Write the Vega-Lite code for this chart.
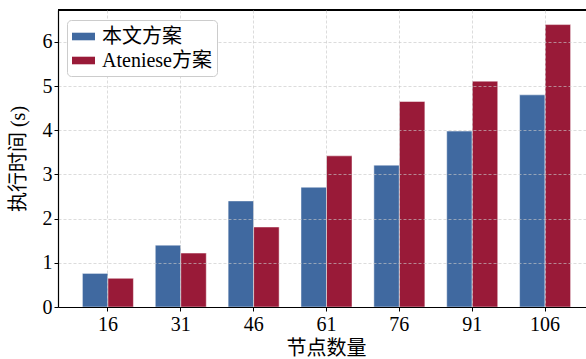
{
  "$schema": "https://vega.github.io/schema/vega-lite/v6.json",
  "autosize": "none",
  "width": 528,
  "height": 297,
  "padding": {"left": 58, "top": 10, "right": 0, "bottom": 52},
  "background": "white",
  "config": {
    "view": {"stroke": null},
    "font": "Liberation Serif, Noto Sans CJK SC",
    "axis": {
      "labelFont": "Liberation Serif, Noto Sans CJK SC",
      "titleFont": "Liberation Serif, Noto Sans CJK SC",
      "labelFontSize": 20,
      "titleFontSize": 20,
      "titleFontWeight": "normal",
      "labelColor": "#000000",
      "titleColor": "#000000",
      "domainColor": "#000000",
      "domainWidth": 1.2,
      "tickColor": "#000000",
      "tickSize": 4,
      "tickWidth": 1,
      "gridColor": "#c8c8c8",
      "gridDash": [3, 2],
      "gridWidth": 0.8,
      "gridOpacity": 0.8
    },
    "legend": {
      "labelFont": "Liberation Serif, Noto Sans CJK SC",
      "labelFontSize": 20,
      "labelColor": "#000000"
    }
  },
  "data": {
    "values": [
      {"nodes": "16", "scheme": "本文方案", "time": 0.76},
      {"nodes": "16", "scheme": "Ateniese方案", "time": 0.65},
      {"nodes": "31", "scheme": "本文方案", "time": 1.40},
      {"nodes": "31", "scheme": "Ateniese方案", "time": 1.22},
      {"nodes": "46", "scheme": "本文方案", "time": 2.40},
      {"nodes": "46", "scheme": "Ateniese方案", "time": 1.81},
      {"nodes": "61", "scheme": "本文方案", "time": 2.71},
      {"nodes": "61", "scheme": "Ateniese方案", "time": 3.42},
      {"nodes": "76", "scheme": "本文方案", "time": 3.21},
      {"nodes": "76", "scheme": "Ateniese方案", "time": 4.65},
      {"nodes": "91", "scheme": "本文方案", "time": 3.98},
      {"nodes": "91", "scheme": "Ateniese方案", "time": 5.11},
      {"nodes": "106", "scheme": "本文方案", "time": 4.80},
      {"nodes": "106", "scheme": "Ateniese方案", "time": 6.39}
    ]
  },
  "layer": [
    {
      "mark": {"type": "bar", "stroke": "#ffffff", "strokeWidth": 0.8, "strokeOpacity": 0.6},
      "encoding": {
        "x": {
          "field": "nodes",
          "type": "ordinal",
          "sort": ["16", "31", "46", "61", "76", "91", "106"],
          "scale": {"range": [0, 537], "paddingInner": 0.3, "paddingOuter": 0.335},
          "axis": {
            "title": "节点数量",
            "labelAngle": 0,
            "labelPadding": 3,
            "grid": true,
            "zindex": 1,
            "titleX": 268,
            "titleY": 41,
            "titleAlign": "center",
            "titleBaseline": "middle"
          }
        },
        "xOffset": {
          "field": "scheme",
          "type": "nominal",
          "sort": ["本文方案", "Ateniese方案"],
          "scale": {"paddingInner": 0, "paddingOuter": 0}
        },
        "y": {
          "field": "time",
          "type": "quantitative",
          "scale": {"domain": [0, 6.72], "nice": false, "zero": true},
          "axis": {
            "title": "执行时间 (s)",
            "values": [0, 1, 2, 3, 4, 5, 6],
            "labelPadding": 2,
            "grid": true,
            "zindex": 1,
            "titleX": -40,
            "titleAngle": -90,
            "titleAlign": "center",
            "titleBaseline": "middle"
          }
        },
        "color": {
          "field": "scheme",
          "type": "nominal",
          "sort": ["本文方案", "Ateniese方案"],
          "scale": {"domain": ["本文方案", "Ateniese方案"], "range": ["#4069A0", "#991A38"]},
          "legend": {
            "title": null,
            "orient": "none",
            "legendX": 9,
            "legendY": 10,
            "padding": 5,
            "cornerRadius": 4,
            "strokeColor": "#cccccc",
            "fillColor": "#ffffff",
            "symbolType": "M-1,-0.33L1,-0.33L1,0.33L-1,0.33Z",
            "symbolSize": 529,
            "symbolStrokeWidth": 0,
            "symbolOffset": 0,
            "labelOffset": 7,
            "rowPadding": 2,
            "zindex": 2
          }
        }
      }
    },
    {
      "mark": {"type": "rule", "color": "#000000", "strokeWidth": 1.2},
      "encoding": {"y": {"datum": 6.72}}
    }
  ]
}
